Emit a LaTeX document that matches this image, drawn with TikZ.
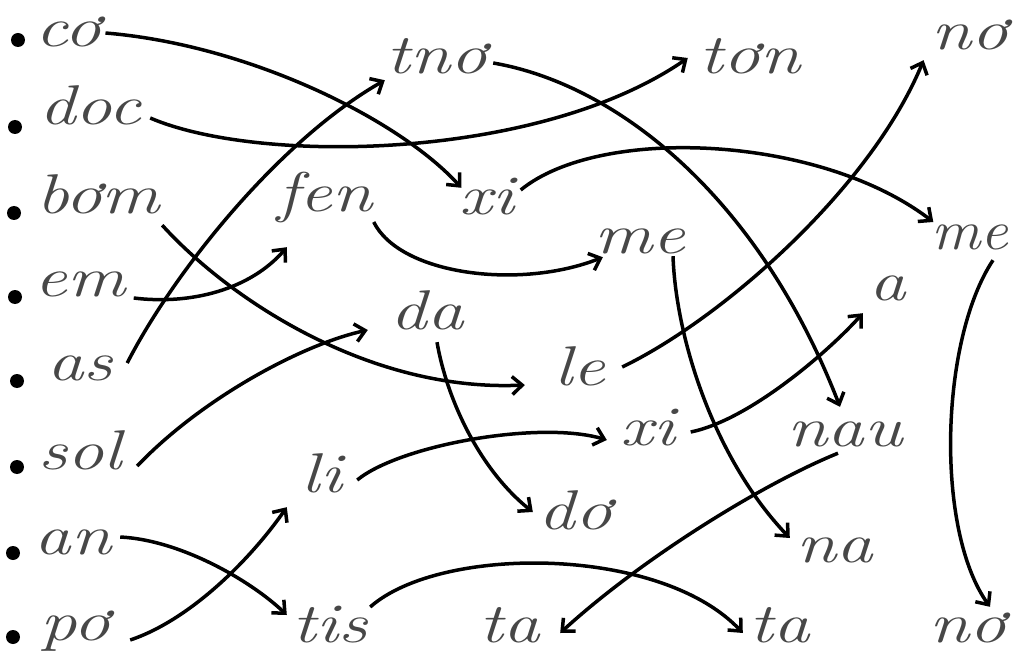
\documentclass[tikz,border=0pt]{standalone}
\usepackage{graphicx}
\usetikzlibrary{arrows.meta}
\newcommand\wordfont{\fontsize{56}{56}\selectfont\itshape}
\newcommand\hw[1]{\scalebox{1.3}[1]{#1}}
\tikzset{
  word/.style={font=\wordfont, text=black!72, inner sep=0pt, minimum height=28pt,
    text height=24pt, text depth=0pt, align=center},
  bul/.style={circle, fill=black, inner sep=0pt, minimum size=14pt},
  conn/.style={line width=3.5pt, -{Straight Barb[length=10pt,width=18pt]}},
}
\begin{document}
\begin{tikzpicture}[x=1pt,y=-1pt]
\useasboundingbox[fill=white] (0,0) rectangle (1015,671);
% bullets
\node[bul] (b1) at (18,40) {};
\node[bul] (b2) at (15,127) {};
\node[bul] (b3) at (14,213) {};
\node[bul] (b4) at (15,297) {};
\node[bul] (b5) at (17,381) {};
\node[bul] (b6) at (17,467) {};
\node[bul] (b7) at (13,553) {};
\node[bul] (b8) at (13,637) {};
% words
\node[word, minimum width=65pt]  (co)  at (68,35)   {\hw{cơ}};
\node[word, minimum width=110pt] (doc) at (90,113)  {\hw{doc}};
\node[word, minimum width=130pt] (bom) at (98,202)  {\hw{bơm}};
\node[word, minimum width=90pt]  (em)  at (80,285)  {\hw{em}};
\node[word, minimum width=90pt]  (as)  at (80,368)  {\hw{as}};
\node[word, minimum width=100pt] (sol) at (80,457)  {\hw{sol}};
\node[word, minimum width=85pt]  (an)  at (73,542)  {\hw{an}};
\node[word, minimum width=85pt]  (po)  at (75,628)  {\hw{pơ}};
\node[word, minimum width=105pt] (tno) at (437,62)  {\hw{tnơ}};
\node[word, minimum width=100pt] (ton) at (750,62)  {\hw{tơn}};
\node[word, minimum width=70pt]  (noA) at (970,38)  {\hw{nơ}};
\node[word, minimum width=105pt] (fen) at (325,200) {\hw{fen}};
\node[word, minimum width=75pt]  (xi)  at (487,203) {\hw{xi}};
\node[word, minimum width=100pt] (me)  at (640,242) {\hw{me}};
\node[word, minimum width=70pt]  (meB) at (970,238) {\scalebox{1.1}[1]{me}};
\node[word, minimum width=95pt]  (da)  at (427,317) {\hw{da}};
\node[word, minimum width=55pt]  (a)   at (888,288) {\hw{a}};
\node[word, minimum width=80pt]  (le)  at (580,373) {\hw{le}};
\node[word, minimum width=85pt]  (xiB) at (648,433) {\hw{xi}};
\node[word, minimum width=140pt] (nau) at (845,434) {\hw{nau}};
\node[word, minimum width=65pt]  (li)  at (322,480) {\hw{li}};
\node[word, minimum width=90pt]  (dlo) at (575,517) {\hw{dơ}};
\node[word, minimum width=90pt]  (na)  at (835,550) {\hw{na}};
\node[word, minimum width=95pt]  (tis) at (330,630) {\hw{tis}};
\node[word, minimum width=80pt]  (ta)  at (510,630) {\hw{ta}};
\node[word, minimum width=90pt]  (taB) at (780,630) {\hw{ta}};
\node[word, minimum width=75pt]  (noB) at (968,630) {\hw{nơ}};
% connectors
\draw[conn] ([shift={(4.5,-2)}]co.east) .. controls (250,45) and (400,120) .. ([shift={(12,-1)}]xi.north west);
\draw[conn] ([shift={(5,5)}]doc.east) .. controls (260,165) and (540,160) .. ([shift={(-12,-4)}]ton.west);
\draw[conn] ([shift={(-1,9)}]bom.south east) .. controls (230,300) and (370,392) .. ([shift={(-15,12)}]le.west);
\draw[conn] ([shift={(8,13)}]em.east) .. controls (190,305) and (250,290) .. ([shift={(14.5,33)}]fen.south west);
\draw[conn] ([shift={(2,-5)}]as.east) .. controls (175,270) and (280,140) .. ([shift={(0.5,4)}]tno.south west);
\draw[conn] ([shift={(7,9)}]sol.east) .. controls (200,400) and (300,345) .. ([shift={(-11.5,13)}]da.west);
\draw[conn] ([shift={(4.5,-5)}]an.east) .. controls (180,540) and (250,580) .. ([shift={(4.5,-15)}]tis.west);
\draw[conn] ([shift={(12.5,12)}]po.east) .. controls (190,620) and (250,560) .. ([shift={(-2.5,13)}]li.south west);
\draw[conn] ([shift={(-4,22)}]fen.east) .. controls (400,275) and (520,290) .. ([shift={(13,1)}]me.south west);
\draw[conn] ([shift={(3.5,1)}]tno.east) .. controls (620,85) and (760,200) .. ([shift={(-5,-13)}]nau.north);
\draw[conn] ([shift={(-4,-13)}]xi.east) .. controls (600,125) and (820,135) .. ([shift={(2,-16)}]meB.west);
\draw[conn] ([shift={(10,11)}]da.south) .. controls (447,400) and (480,470) .. ([shift={(3,-5)}]dlo.west);
\draw[conn] ([shift={(2,-6)}]le.east) .. controls (720,320) and (870,190) .. ([shift={(-8,8)}]noA.south west);
\draw[conn] ([shift={(33,0)}]me.south) .. controls (676,340) and (715,460) .. ([shift={(0,-12)}]na.west);
\draw[conn] ([shift={(2.5,0)}]li.east) .. controls (400,445) and (540,420) .. ([shift={(1.5,7)}]xiB.west);
\draw[conn] ([shift={(0,-1)}]xiB.east) .. controls (750,420) and (830,350) .. ([shift={(2.5,11)}]a.south west);
\draw[conn] ([shift={(-7,5)}]nau.south) .. controls (760,485) and (640,560) .. ([shift={(10,3)}]ta.east);
\draw[conn] ([shift={(-7.5,-23)}]tis.east) .. controls (440,545) and (660,545) .. ([shift={(8,3)}]taB.west);
\draw[conn] ([shift={(23,8)}]meB.south) .. controls (940,340) and (935,530) .. ([shift={(22,-9)}]noB.north);
\end{tikzpicture}
\end{document}
